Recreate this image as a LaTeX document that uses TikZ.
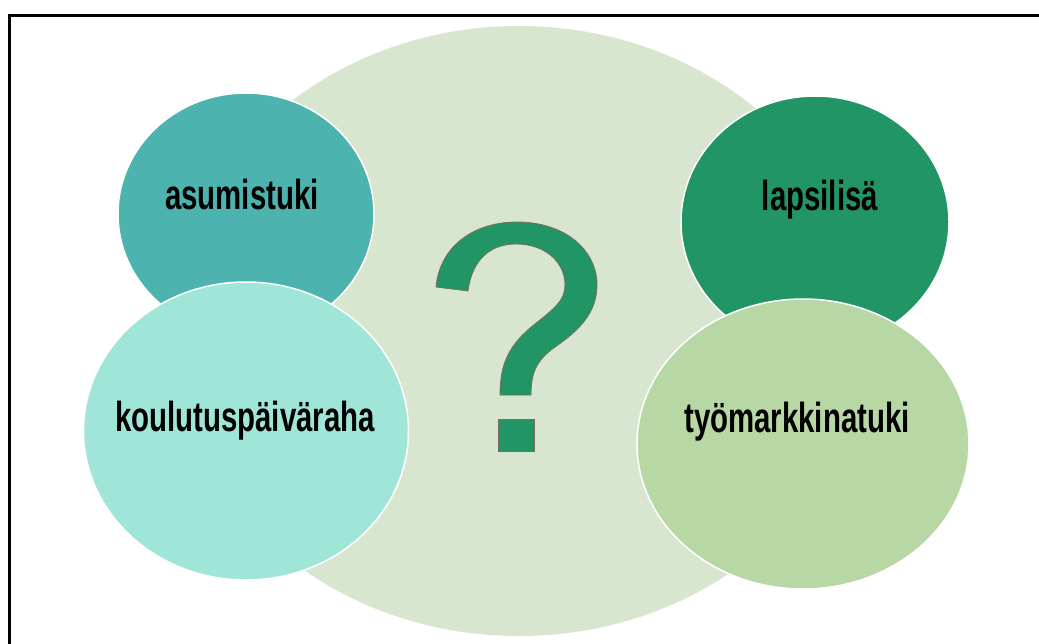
\documentclass[tikz,border=0pt]{standalone}
\usepackage{fontspec}
\usetikzlibrary{shapes.geometric}
\newfontfamily\labfont[FakeStretch=0.70]{Liberation Sans Bold}
\definecolor{bgell}{HTML}{D8E6CF}
\definecolor{cteal}{HTML}{4DB3AE}
\definecolor{cmint}{HTML}{A0E6D8}
\definecolor{cgreen}{HTML}{229566}
\definecolor{csage}{HTML}{B7D7A5}
\definecolor{qedge}{HTML}{7A6E5E}
\tikzset{
  blob/.style={ellipse, draw=white, line width=1.5pt, inner sep=0pt},
  lab/.style={font=\labfont\fontsize{42}{46}\selectfont, text=black, inner sep=0pt, anchor=base}
}
\begin{document}
\begin{tikzpicture}[x=1pt,y=-1pt]
\useasboundingbox (0,0) rectangle (1039,644);
\clip (0,0) rectangle (1039,644);
\fill[white] (0,0) rectangle (1039,644);
\node[ellipse, fill=bgell, inner sep=0pt, minimum width=692pt, minimum height=610pt] (bg) at (519,331) {};
\node[blob, fill=cteal, minimum width=256pt, minimum height=242pt] (asu) at (246,214) {};
\node[blob, fill=cmint, minimum width=325pt, minimum height=298pt] (kou) at (246,431) {};
\node[blob, fill=cgreen, minimum width=268pt, minimum height=252pt] (lap) at (815,222) {};
\node[blob, fill=csage, minimum width=332pt, minimum height=290pt] (tyo) at (803,444) {};
\node[lab] (tasu) at (242,210) {asumistuki};
\node[lab] (tkou) at (245,431.5) {koulutuspäiväraha};
\node[lab] (tlap) at (820,210.5) {lapsilisä};
\node[lab] (ttyo) at (797,432) {työmarkkinatuki};
% question mark
\filldraw[fill=cgreen, draw=qedge, line width=0.8pt]
  (436,287) .. controls (440,245) and (475,222) .. (517,222)
  .. controls (565,222) and (597,250) .. (597,285)
  .. controls (597,312) and (580,330) .. (555,347)
  .. controls (537,360) and (531,372) .. (531,395)
  -- (500,395)
  .. controls (500,365) and (508,345) .. (535,324)
  .. controls (555,308) and (565,300) .. (565,285)
  .. controls (565,262) and (545,244) .. (516,244)
  .. controls (490,244) and (472,260) .. (468,291)
  -- cycle;
\filldraw[fill=cgreen, draw=qedge, line width=0.8pt] (498.5,419.5) rectangle (534.5,451.5);
% frame
\draw[black, line width=3pt] (9.5,660) -- (9.5,15.5) -- (1060,15.5);
\end{tikzpicture}
\end{document}
